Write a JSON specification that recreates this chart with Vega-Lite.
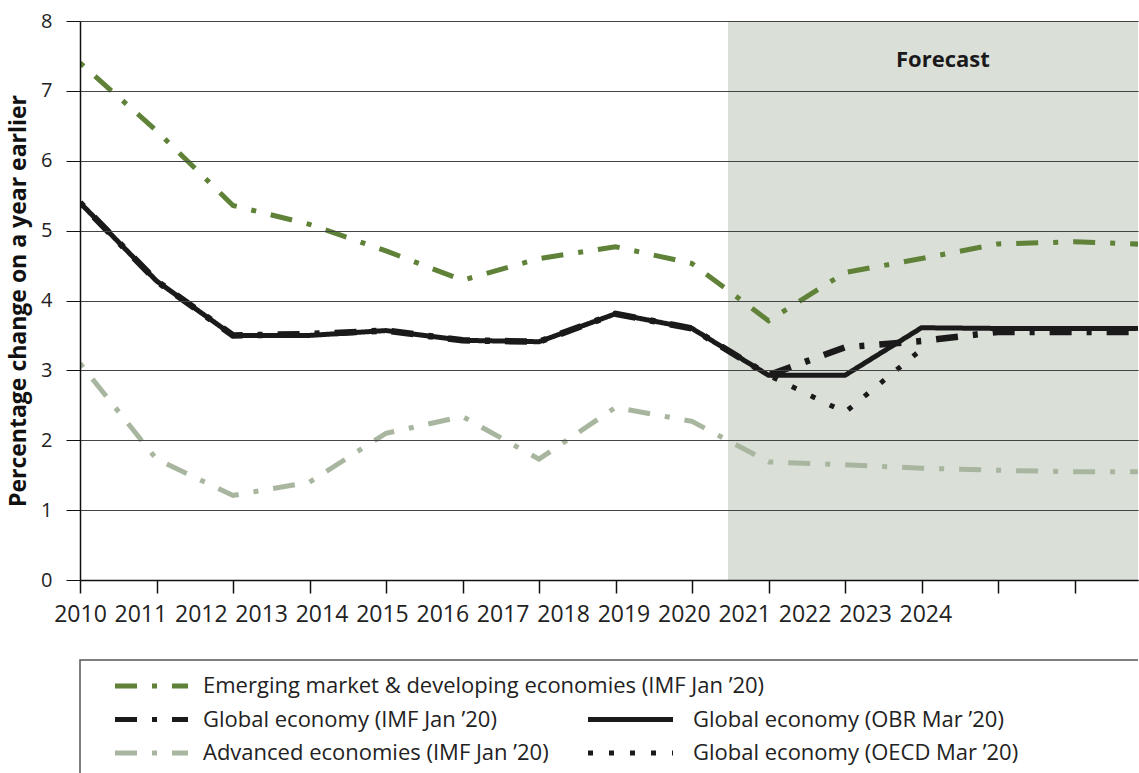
{
  "$schema": "https://vega.github.io/schema/vega-lite/v6.json",
  "padding": {"left": 7, "top": 11, "right": 0, "bottom": 0},
  "spacing": 32,
  "config": {
    "font": "Open Sans",
    "view": {"stroke": null},
    "axis": {"labelFont": "Open Sans", "titleFont": "Open Sans"}
  },
  "datasets": {
    "growth": [
      {"series": "Advanced", "year": 2010, "value": 3.1},
      {"series": "Advanced", "year": 2011, "value": 1.73},
      {"series": "Advanced", "year": 2012, "value": 1.21},
      {"series": "Advanced", "year": 2013, "value": 1.4},
      {"series": "Advanced", "year": 2014, "value": 2.1},
      {"series": "Advanced", "year": 2015, "value": 2.34},
      {"series": "Advanced", "year": 2016, "value": 1.73},
      {"series": "Advanced", "year": 2017, "value": 2.47},
      {"series": "Advanced", "year": 2018, "value": 2.27},
      {"series": "Advanced", "year": 2019, "value": 1.69},
      {"series": "Advanced", "year": 2020, "value": 1.65},
      {"series": "Advanced", "year": 2021, "value": 1.6},
      {"series": "Advanced", "year": 2022, "value": 1.57},
      {"series": "Advanced", "year": 2023, "value": 1.55},
      {"series": "Advanced", "year": 2024, "value": 1.55},
      {"series": "EM", "year": 2010, "value": 7.4},
      {"series": "EM", "year": 2011, "value": 6.43},
      {"series": "EM", "year": 2012, "value": 5.36},
      {"series": "EM", "year": 2013, "value": 5.09},
      {"series": "EM", "year": 2014, "value": 4.71},
      {"series": "EM", "year": 2015, "value": 4.29},
      {"series": "EM", "year": 2016, "value": 4.6},
      {"series": "EM", "year": 2017, "value": 4.77},
      {"series": "EM", "year": 2018, "value": 4.53},
      {"series": "EM", "year": 2019, "value": 3.71},
      {"series": "EM", "year": 2020, "value": 4.4},
      {"series": "EM", "year": 2021, "value": 4.6},
      {"series": "EM", "year": 2022, "value": 4.81},
      {"series": "EM", "year": 2023, "value": 4.84},
      {"series": "EM", "year": 2024, "value": 4.8},
      {"series": "OBR", "year": 2010, "value": 5.4},
      {"series": "OBR", "year": 2011, "value": 4.28},
      {"series": "OBR", "year": 2012, "value": 3.5},
      {"series": "OBR", "year": 2013, "value": 3.5},
      {"series": "OBR", "year": 2014, "value": 3.57},
      {"series": "OBR", "year": 2015, "value": 3.43},
      {"series": "OBR", "year": 2016, "value": 3.41},
      {"series": "OBR", "year": 2017, "value": 3.81},
      {"series": "OBR", "year": 2018, "value": 3.6},
      {"series": "OBR", "year": 2019, "value": 2.93},
      {"series": "OBR", "year": 2020, "value": 2.93},
      {"series": "OBR", "year": 2021, "value": 3.61},
      {"series": "OBR", "year": 2022, "value": 3.6},
      {"series": "OBR", "year": 2023, "value": 3.6},
      {"series": "OBR", "year": 2024, "value": 3.6},
      {"series": "OECD", "year": 2019, "value": 2.93},
      {"series": "OECD", "year": 2020, "value": 2.4},
      {"series": "OECD", "year": 2021, "value": 3.3},
      {"series": "GlobalIMF", "year": 2010, "value": 5.4},
      {"series": "GlobalIMF", "year": 2011, "value": 4.28},
      {"series": "GlobalIMF", "year": 2012, "value": 3.5},
      {"series": "GlobalIMF", "year": 2013, "value": 3.52},
      {"series": "GlobalIMF", "year": 2014, "value": 3.57},
      {"series": "GlobalIMF", "year": 2015, "value": 3.43},
      {"series": "GlobalIMF", "year": 2016, "value": 3.41},
      {"series": "GlobalIMF", "year": 2017, "value": 3.81},
      {"series": "GlobalIMF", "year": 2018, "value": 3.6},
      {"series": "GlobalIMF", "year": 2019, "value": 2.93},
      {"series": "GlobalIMF", "year": 2020, "value": 3.33},
      {"series": "GlobalIMF", "year": 2021, "value": 3.42},
      {"series": "GlobalIMF", "year": 2022, "value": 3.55},
      {"series": "GlobalIMF", "year": 2023, "value": 3.55},
      {"series": "GlobalIMF", "year": 2024, "value": 3.55}
    ],
    "forecast": [{"period": "Forecast", "start": 2018.47, "end": 2024}],
    "legend": [
      {"series": "EM", "label": "Emerging market & developing economies (IMF Jan ’20)", "col": 1, "row": 1},
      {"series": "GlobalIMF", "label": "Global economy (IMF Jan ’20)", "col": 1, "row": 2},
      {"series": "Advanced", "label": "Advanced economies (IMF Jan ’20)", "col": 1, "row": 3},
      {"series": "OBR", "label": "Global economy (OBR Mar ’20)", "col": 2, "row": 2},
      {"series": "OECD", "label": "Global economy (OECD Mar ’20)", "col": 2, "row": 3}
    ]
  },
  "vconcat": [
    {
      "width": 1058,
      "height": 559,
      "layer": [
        {
          "data": {"name": "forecast"},
          "mark": {"type": "rect", "color": "#dadfd8", "clip": true},
          "encoding": {
            "x": {"field": "start", "type": "quantitative", "scale": {"domain": [2010, 2023.83], "nice": false, "zero": false}, "axis": null},
            "x2": {"field": "end"}
          }
        },
        {
          "data": {"name": "growth"},
          "mark": {"type": "line", "clip": true, "strokeDashOffset": 37},
          "encoding": {
            "x": {
              "field": "year", "type": "quantitative",
              "scale": {"domain": [2010, 2023.83], "nice": false, "zero": false},
              "axis": {
                "orient": "bottom", "title": null, "labels": false, "grid": false,
                "values": [2010, 2011, 2012, 2013, 2014, 2015, 2016, 2017, 2018, 2019, 2020, 2021, 2022, 2023],
                "tickSize": 13, "tickColor": "#111", "tickWidth": 1.5,
                "domainColor": "#111", "domainWidth": 1.5, "zindex": 1
              }
            },
            "y": {
              "field": "value", "type": "quantitative",
              "scale": {"domain": [0, 8], "nice": false},
              "axis": {
                "title": "Percentage change on a year earlier",
                "titleFontSize": 23, "titleFontWeight": "bold", "titleColor": "#111", "titlePadding": 10,
                "values": [0, 1, 2, 3, 4, 5, 6, 7, 8],
                "labelFontSize": 20, "labelColor": "#222", "labelPadding": 14,
                "tickSize": 14, "tickColor": "#111", "tickWidth": 1,
                "domainColor": "#111", "domainWidth": 1.5,
                "grid": true, "gridColor": "#444", "gridWidth": 1.2, "zindex": 1
              }
            },
            "color": {
              "field": "series", "type": "nominal", "legend": null,
              "scale": {"domain": ["EM", "GlobalIMF", "Advanced", "OBR", "OECD"], "range": ["#5f8138", "#1a1a1a", "#a9b69f", "#1a1a1a", "#1a1a1a"]}
            },
            "strokeDash": {
              "field": "series", "type": "nominal", "legend": null,
              "scale": {"domain": ["EM", "GlobalIMF", "Advanced", "OBR", "OECD"], "range": [[22, 15, 5, 15], [22, 15, 5, 15], [22, 15, 5, 15], [1, 0], [5, 16]]}
            },
            "strokeWidth": {
              "condition": {"test": "datum.series === 'GlobalIMF'", "value": 6.5},
              "value": 5
            }
          }
        },
        {
          "data": {"name": "forecast"},
          "mark": {"type": "text", "fontSize": 22, "fontWeight": "bold", "color": "#1a1a1a", "baseline": "middle", "align": "center"},
          "encoding": {
            "text": {"field": "period"},
            "x": {
              "datum": 2021.28, "type": "quantitative",
              "scale": {"domain": [2010, 2023.83], "nice": false, "zero": false},
              "axis": {
                "orient": "bottom", "title": null, "grid": false, "domain": false,
                "values": [2010, 2010.789, 2011.579, 2012.368, 2013.157, 2013.947, 2014.736, 2015.525, 2016.314, 2017.104, 2017.893, 2018.682, 2019.472, 2020.261, 2021.05],
                "labelExpr": "'' + (2010 + round((datum.value - 2010) / 0.7893))",
                "ticks": true, "tickSize": 13, "tickOpacity": 0,
                "labelPadding": 10.5, "labelFontSize": 23, "labelColor": "#222",
                "labelFlush": false, "labelOverlap": false, "labelBound": false, "zindex": 1
              }
            },
            "y": {
              "datum": 7.44, "type": "quantitative",
              "scale": {"domain": [0, 8], "nice": false},
              "axis": {
                "title": "Percentage change on a year earlier",
                "titleFontSize": 23, "titleFontWeight": "bold", "titleColor": "#111", "titlePadding": 10,
                "values": [0, 1, 2, 3, 4, 5, 6, 7, 8],
                "labelFontSize": 20, "labelColor": "#222", "labelPadding": 14,
                "tickSize": 14, "tickColor": "#111", "tickWidth": 1,
                "domainColor": "#111", "domainWidth": 1.5,
                "grid": true, "gridColor": "#444", "gridWidth": 1.2, "zindex": 1
              }
            }
          }
        }
      ],
      "resolve": {"axis": {"x": "independent"}}
    },
    {
      "width": 1058,
      "height": 113,
      "view": {"stroke": "#555", "strokeWidth": 1.5, "strokeDash": [1058, 1171, 113]},
      "data": {"name": "legend"},
      "encoding": {
        "y": {"field": "row", "type": "quantitative", "scale": {"domain": [1, 3], "range": [26, 93]}, "axis": null}
      },
      "layer": [
        {
          "transform": [{"filter": "datum.col === 1"}],
          "mark": {"type": "rule", "x2Offset": 73, "strokeWidth": 5},
          "encoding": {
            "x": {"field": "col", "type": "quantitative", "scale": {"domain": [1, 2], "range": [35, 508]}, "axis": null},
            "x2": {"field": "col"},
            "color": {"field": "series", "type": "nominal", "legend": null, "scale": {"domain": ["EM", "GlobalIMF", "Advanced", "OBR", "OECD"], "range": ["#5f8138", "#1a1a1a", "#a9b69f", "#1a1a1a", "#1a1a1a"]}},
            "strokeDash": {"field": "series", "type": "nominal", "legend": null, "scale": {"domain": ["EM", "GlobalIMF", "Advanced", "OBR", "OECD"], "range": [[20, 17, 5, 15], [20, 17, 5, 15], [20, 17, 5, 15], [1, 0], [5, 15]]}}
          }
        },
        {
          "transform": [{"filter": "datum.col === 2"}],
          "mark": {"type": "rule", "x2Offset": 85, "strokeWidth": 5},
          "encoding": {
            "x": {"field": "col", "type": "quantitative", "scale": {"domain": [1, 2], "range": [35, 508]}, "axis": null},
            "x2": {"field": "col"},
            "color": {"field": "series", "type": "nominal", "legend": null, "scale": {"domain": ["EM", "GlobalIMF", "Advanced", "OBR", "OECD"], "range": ["#5f8138", "#1a1a1a", "#a9b69f", "#1a1a1a", "#1a1a1a"]}},
            "strokeDash": {"field": "series", "type": "nominal", "legend": null, "scale": {"domain": ["EM", "GlobalIMF", "Advanced", "OBR", "OECD"], "range": [[20, 17, 5, 15], [20, 17, 5, 15], [20, 17, 5, 15], [1, 0], [5, 15]]}}
          }
        },
        {
          "transform": [{"filter": "datum.col === 1"}],
          "mark": {"type": "text", "align": "left", "baseline": "middle", "dx": 88, "fontSize": 22, "color": "#222"},
          "encoding": {
            "x": {"field": "col", "type": "quantitative", "scale": {"domain": [1, 2], "range": [35, 508]}, "axis": null},
            "text": {"field": "label"}
          }
        },
        {
          "transform": [{"filter": "datum.col === 2"}],
          "mark": {"type": "text", "align": "left", "baseline": "middle", "dx": 105, "fontSize": 22, "color": "#222"},
          "encoding": {
            "x": {"field": "col", "type": "quantitative", "scale": {"domain": [1, 2], "range": [35, 508]}, "axis": null},
            "text": {"field": "label"}
          }
        }
      ]
    }
  ]
}
